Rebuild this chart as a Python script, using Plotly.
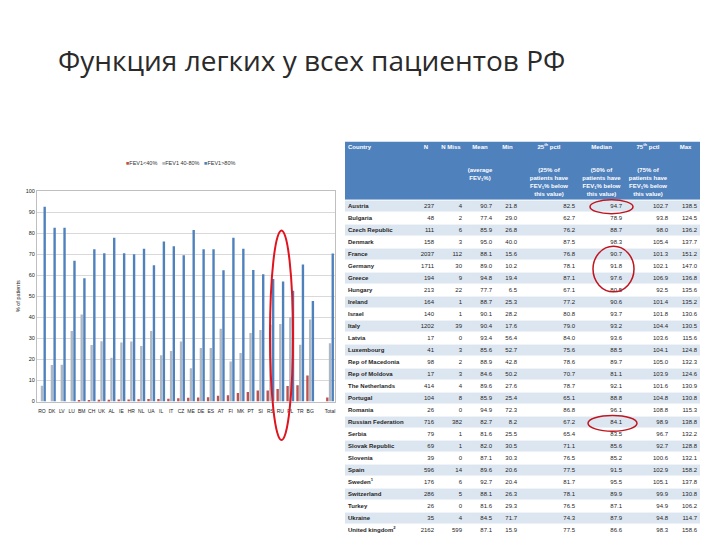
import plotly.graph_objects as go

# ---------------- chart data ----------------
codes = ["RO", "DK", "LV", "LU", "BM", "CH", "UK", "AL", "IE", "HR", "NL", "UA", "IL", "IT",
         "CZ", "ME", "DE", "ES", "AT", "FI", "MK", "PT", "SI", "RS", "RU", "PL", "TR", "BG",
         " ", "Total"]
fev_low = [0, 0, 0, 0, 0.5, 0.7, 0.8, 0.9, 1.0, 1.0, 1.1, 1.2, 1.2, 1.3,
           1.6, 1.8, 1.9, 2.0, 2.8, 3.0, 4.0, 4.5, 5.2, 5.3, 6.0, 7.4, 7.7, 12.4,
           None, 1.9]
fev_mid = [7.5, 17.4, 17.5, 33.5, 41.3, 26.9, 28.6, 20.8, 28.0, 28.5, 26.4, 33.5, 22.0, 24.0,
           28.5, 15.8, 25.4, 25.4, 34.6, 19.0, 23.0, 32.5, 34.0, 36.5, 36.8, 40.0, 27.0, 39.0,
           None, 27.7]
fev_high = [92.5, 82.5, 82.5, 66.8, 58.5, 72.3, 70.4, 77.8, 70.4, 70.0, 72.5, 64.7, 76.0, 73.7,
            69.5, 81.5, 72.3, 72.3, 62.3, 77.8, 72.6, 62.5, 60.4, 58.2, 57.0, 52.6, 65.1, 47.7,
            None, 70.3]
series_names = ["FEV1&lt;40%", "FEV1 40-80%", "FEV1&gt;80%"]
y_ticks = [0, 10, 20, 30, 40, 50, 60, 70, 80, 90, 100]

# ---------------- table data ----------------
tbl_header = ["Country", "N", "N Miss", "Mean<br> <br> <br>(average<br>FEV<sub>1</sub>%)", "Min",
              "25<sup>th</sup> pctl<br> <br> <br>(25% of<br>patients have<br>FEV<sub>1</sub>% below<br>this value)",
              "Median<br> <br> <br>(50% of<br>patients have<br>FEV<sub>1</sub>% below<br>this value)",
              "75<sup>th</sup> pctl<br> <br> <br>(75% of<br>patients have<br>FEV<sub>1</sub>% below<br>this value)",
              "Max"]
tbl_country = ["Austria", "Bulgaria", "Czech Republic", "Denmark", "France", "Germany", "Greece",
               "Hungary", "Ireland", "Israel", "Italy", "Latvia", "Luxembourg", "Rep of Macedonia",
               "Rep of Moldova", "The Netherlands", "Portugal", "Romania", "Russian Federation",
               "Serbia", "Slovak Republic", "Slovenia", "Spain", "Sweden<sup>1</sup>", "Switzerland",
               "Turkey", "Ukraine", "United kingdom<sup>2</sup>"]
tbl_n = ["237", "48", "111", "158", "2037", "1711", "194", "213", "164", "140", "1202", "17", "41",
         "98", "17", "414", "104", "26", "716", "79", "69", "39", "596", "176", "286", "26", "35", "2162"]
tbl_nmiss = ["4", "2", "6", "3", "112", "30", "9", "22", "1", "1", "39", "0", "3", "2", "3", "4",
             "8", "0", "382", "1", "1", "0", "14", "6", "5", "0", "4", "599"]
tbl_mean = ["90.7", "77.4", "85.9", "95.0", "88.1", "89.0", "94.8", "77.7", "88.7", "90.1", "90.4",
            "93.4", "85.6", "88.9", "84.6", "89.6", "85.9", "94.9", "82.7", "81.6", "82.0", "87.1",
            "89.6", "92.7", "88.1", "81.6", "84.5", "87.1"]
tbl_min = ["21.8", "29.0", "26.8", "40.0", "15.6", "10.2", "19.4", "6.5", "25.3", "28.2", "17.6",
           "56.4", "52.7", "42.8", "50.2", "27.6", "25.4", "72.3", "8.2", "25.5", "30.5", "30.3",
           "20.6", "20.4", "26.3", "29.3", "71.7", "15.9"]
tbl_p25 = ["82.5", "62.7", "76.2", "87.5", "76.8", "78.1", "87.1", "67.1", "77.2", "80.8", "79.0",
           "84.0", "75.6", "78.6", "70.7", "78.7", "65.1", "86.8", "67.2", "65.4", "71.1", "76.5",
           "77.5", "81.7", "78.1", "76.5", "74.3", "77.5"]
tbl_median = ["94.7", "78.9", "88.7", "98.3", "90.7", "91.8", "97.6", "80.5", "90.6", "93.7", "93.2",
              "93.6", "88.5", "89.7", "81.1", "92.1", "88.8", "96.1", "84.1", "83.5", "85.6", "85.2",
              "91.5", "95.5", "89.9", "87.1", "87.9", "86.6"]
tbl_p75 = ["102.7", "93.8", "98.0", "105.4", "101.3", "102.1", "106.9", "92.5", "101.4", "101.8",
           "104.4", "103.6", "104.1", "105.0", "103.9", "101.6", "104.8", "108.8", "98.9", "96.7",
           "92.7", "100.6", "102.9", "105.1", "99.9", "94.9", "94.8", "98.3"]
tbl_max = ["138.5", "124.5", "136.2", "137.7", "151.2", "147.0", "136.8", "135.6", "135.2", "130.6",
           "130.5", "115.6", "124.8", "132.3", "124.6", "130.9", "130.8", "115.3", "138.8", "132.2",
           "128.8", "132.1", "158.2", "137.8", "130.8", "106.2", "114.7", "158.6"]

# ---------------- layout helpers (screen pixels; page body has an 8px margin) ----------------
OFF = 8
W, H = 720 - OFF, 540 - OFF


def px_x(sx):
    return (sx - OFF) / W


def px_y(sy):
    return 1 - (sy - OFF) / H


# table geometry (screen px)
T_LEFT, T_RIGHT, T_TOP, T_HEAD_BOTTOM, T_BOTTOM = 345, 700, 140, 200, 539
col_edges = [345, 415, 437, 465, 495, 520, 578, 625, 671, 700]
n_rows = len(tbl_country)
row_px = (T_BOTTOM - T_HEAD_BOTTOM) / n_rows
head_units = (T_HEAD_BOTTOM - T_TOP) / row_px

fig = go.Figure()

# ---- bars ----
colors = ["#C0504D", "#AEB8C5", "#4F81BD"]
for name, vals, col in zip(series_names, [fev_low, fev_mid, fev_high], colors):
    fig.add_trace(go.Bar(x=codes, y=vals, name=name, marker=dict(color=col, line=dict(width=0)),
                         xaxis="x", yaxis="y", showlegend=False))

# ---- table: fills ----
row_vals = [[2]] + [[i % 2] for i in range(n_rows)]
y_edges = [-0.5 - head_units] + [i - 0.5 for i in range(n_rows + 1)]
fig.add_trace(go.Heatmap(
    x=[T_LEFT, T_RIGHT], y=y_edges, z=row_vals, zmin=0, zmax=2,
    colorscale=[[0, "#DCE6F1"], [0.5, "#FFFFFF"], [1, "#4F81BD"]],
    showscale=False, ygap=1, hoverinfo="skip", xaxis="x2", yaxis="y2"))

# ---- table: header + body text ----
col_values = [[f"<b>{c}</b>" for c in tbl_country], tbl_n, tbl_nmiss, tbl_mean, tbl_min,
              tbl_p25, tbl_median, tbl_p75, tbl_max]
rows_idx = list(range(n_rows))
for j, head in enumerate(tbl_header):
    if j == 0:
        hx, hpos = col_edges[0] + 3, "bottom right"
    else:
        hx, hpos = (col_edges[j] + col_edges[j + 1]) / 2, "bottom center"
    fig.add_trace(go.Scatter(
        x=[hx], y=[-0.5 - head_units + 0.25], text=[f"<b>{head}</b>"], mode="text",
        textposition=hpos, textfont=dict(family="Liberation Sans", size=6, color="white"),
        hoverinfo="skip", showlegend=False, xaxis="x2", yaxis="y2"))
    if j == 0:
        cx, cpos = [col_edges[0] + 3] * n_rows, "middle right"
    else:
        cx, cpos = [col_edges[j + 1] - 3] * n_rows, "middle left"
    fig.add_trace(go.Scatter(
        x=cx, y=rows_idx, text=col_values[j], mode="text", textposition=cpos,
        textfont=dict(family="Liberation Sans", size=6, color="#1F1F1F"),
        hoverinfo="skip", showlegend=False, xaxis="x2", yaxis="y2"))

legend_text = "   ".join(
    f"<span style='color:{c}'>■</span>{n}" for n, c in zip(series_names, colors))

fig.update_layout(
    width=W, height=H, margin=dict(l=0, r=0, t=0, b=0),
    paper_bgcolor="white", plot_bgcolor="white",
    barmode="group", bargap=0.18, bargroupgap=0.12,
    font=dict(family="Liberation Sans", size=6, color="#222222"),
    showlegend=False,
    xaxis=dict(domain=[px_x(37), px_x(335)], type="category", categoryorder="array",
               categoryarray=codes, showline=True, mirror=True, linecolor="#BFBFBF",
               ticks="", tickangle=0, ticklabelstandoff=4,
               tickfont=dict(size=5, color="#222222"), fixedrange=True),
    yaxis=dict(domain=[px_y(403), px_y(190)], range=[0, 100], tickvals=y_ticks,
               showgrid=True, gridcolor="#D9D9D9", showline=True, mirror=True,
               linecolor="#BFBFBF", ticks="", tickfont=dict(size=5.5, color="#222222"),
               title=dict(text="% of patients", font=dict(size=5.5), standoff=4), zeroline=False),
    xaxis2=dict(domain=[px_x(T_LEFT), px_x(T_RIGHT)], range=[T_LEFT, T_RIGHT], visible=False,
                anchor="y2"),
    yaxis2=dict(domain=[px_y(T_BOTTOM), px_y(T_TOP)], range=[n_rows - 0.5, -0.5 - head_units],
                visible=False, anchor="x2"),
    annotations=[
        dict(text="Функция легких у всех пациентов РФ", x=px_x(56), y=px_y(58),
             xref="paper", yref="paper", xanchor="left", yanchor="middle",
             showarrow=False, font=dict(family="Open Sans", size=28, color="#2A2A2A")),
        dict(text=legend_text, x=px_x(180), y=px_y(162), xref="paper", yref="paper",
             xanchor="center", yanchor="middle", showarrow=False,
             font=dict(family="Liberation Sans", size=5.5, color="#333333")),
    ],
    shapes=[
        dict(type="circle", xref="paper", yref="paper", x0=px_x(270), x1=px_x(293),
             y0=px_y(442), y1=px_y(230), line=dict(color="#E0141E", width=2)),
        dict(type="circle", xref="paper", yref="paper", x0=px_x(590), x1=px_x(633),
             y0=px_y(213), y1=px_y(199), line=dict(color="#C0141E", width=1.5)),
        dict(type="circle", xref="paper", yref="paper", x0=px_x(593), x1=px_x(634),
             y0=px_y(292), y1=px_y(246), line=dict(color="#C0141E", width=1.5)),
        dict(type="circle", xref="paper", yref="paper", x0=px_x(588), x1=px_x(637),
             y0=px_y(433), y1=px_y(417), line=dict(color="#C0141E", width=1.5)),
    ],
)

fig.write_html("out.html")
